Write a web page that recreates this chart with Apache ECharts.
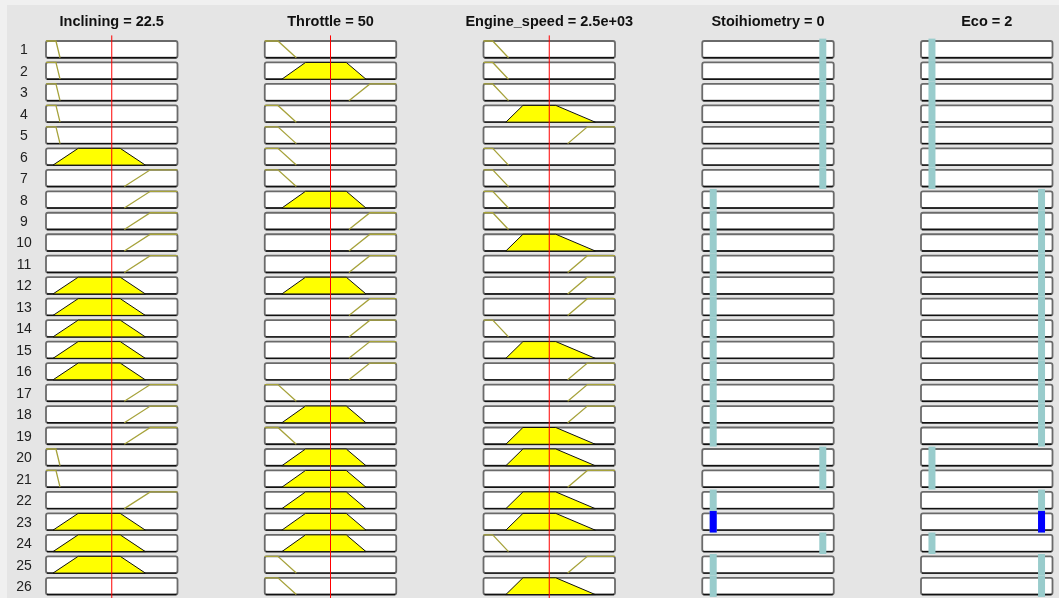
<!DOCTYPE html>
<html>
<head>
<meta charset="utf-8">
<title>Rule viewer</title>
<script src="https://cdn.jsdelivr.net/npm/echarts@6/dist/echarts.min.js"></script>
<style>
  html, body { margin: 0; padding: 0; background: #f0f0f0; }
  #ruleChart { width: 1059px; height: 598px; background: #e5e5e5; box-shadow: inset 7px 5px 0 0 #f0f0f0; }
</style>
</head>
<body>
<div id="ruleChart"></div>
<script>
  // rules and the membership function each one uses ('' = input not used)
  var ruleNumbers = [1, 2, 3, 4, 5, 6, 7, 8, 9, 10, 11, 12, 13, 14, 15, 16, 17, 18, 19, 20, 21, 22, 23, 24, 25, 26];
  var inclRules     = ['L','L','L','L','L','M','H','H','H','H','H','M','M','M','M','M','H','H','H','L','L','H','M','M','M',''];
  var throttleRules = ['L','M','H','L','L','L','L','M','H','H','H','M','H','H','H','H','L','M','L','M','M','M','M','M','L','L'];
  var engineRules   = ['L','L','L','M','H','L','L','L','L','M','H','H','H','L','M','H','H','H','M','M','H','M','M','L','H','M'];
  // constant outputs of each rule
  var stoihRules = [1,1,1,1,1,1,1,0,0,0,0,0,0,0,0,0,0,0,0,1,1,0,0,1,0,0];
  var ecoRules   = [0,0,0,0,0,0,0,2,2,2,2,2,2,2,2,2,2,2,2,0,0,2,2,0,2,2];

  // trapezoid membership functions [a, b, c, d]
  var inclMF     = { L: [0, 0, 3.4, 4.8], M: [2.4, 11, 25.4, 34], H: [26.8, 35.7, 45, 45] };
  var throttleMF = { L: [0, 0, 10, 24], M: [13, 31, 62, 77], H: [64, 80, 100, 100] };
  var engineMF   = { L: [0, 0, 350, 950], M: [850, 1500, 2750, 4250], H: [3200, 3950, 5000, 5000] };

  var inputValues = [22.5, 50, 2500];
  var varRanges = [[0, 45], [0, 100], [0, 5000], [-0.1, 1.1], [-0.2, 2.2]];
  var titleTexts = ['Inclining = 22.5', 'Throttle = 50', 'Engine_speed = 2.5e+03', 'Stoihiometry = 0', 'Eco = 2'];

  var inputRules = [inclRules, throttleRules, engineRules];
  var inputMFs = [inclMF, throttleMF, engineMF];
  var outputRules = [stoihRules, ecoRules];

  var Y_MIN = -0.15, Y_MAX = 26.05;
  var BOX_TOP = 0.11, BOX_BOTTOM = 0.89, BOX_H = BOX_BOTTOM - BOX_TOP;
  var GRID_TOP = 35.4, COL_LEFT = 46, COL_STEP = 218.75, COL_W = 131.5;

  function trapmf (x, p) {
    if (x < p[0] || x > p[3]) return 0;
    if (x >= p[1] && x <= p[2]) return 1;
    if (x < p[1]) return (x - p[0]) / (p[1] - p[0]);
    return (p[3] - x) / (p[3] - p[2]);
  }

  // firing strength of each rule (min of the used inputs)
  var firing = ruleNumbers.map(function (n, r) {
    var w = 1;
    for (var k = 0; k < 3; k++) {
      var name = inputRules[k][r];
      if (name) {
        w = Math.min(w, trapmf(inputValues[k], inputMFs[k][name]));
      }
    }
    return w;
  });

  function drawBox (api, k, r, children) {
    var tl = api.coord([varRanges[k][0], r + BOX_TOP]);
    var br = api.coord([varRanges[k][1], r + BOX_BOTTOM]);
    children.push({
      type: 'rect',
      shape: { x: tl[0], y: tl[1], width: br[0] - tl[0], height: br[1] - tl[1], r: 2 },
      style: { fill: '#ffffff', stroke: '#6a6a6a', lineWidth: 1.8 }
    });
    children.push({
      type: 'line',
      shape: { x1: tl[0] + 1, y1: br[1], x2: br[0] - 1, y2: br[1] },
      style: { stroke: '#111111', lineWidth: 1.4 }
    });
    return [tl, br];
  }

  function inputRenderer (k) {
    return function (params, api) {
      var r = params.dataIndex;
      var children = [];
      var box = drawBox(api, k, r, children);
      var name = inputRules[k][r];
      var yAt = function (mu) { return r + BOX_BOTTOM - BOX_H * mu; };
      if (name) {
        var p = inputMFs[k][name];
        var deg = trapmf(inputValues[k], p);
        if (deg > 0) {
          var poly = [[p[0], 0], [p[0] + (p[1] - p[0]) * deg, deg], [p[3] - (p[3] - p[2]) * deg, deg], [p[3], 0]];
          children.push({
            type: 'polygon',
            shape: { points: poly.map(function (q) { return api.coord([q[0], yAt(q[1])]); }) },
            style: { fill: '#ffff00', stroke: '#111111', lineWidth: 1 }
          });
        } else {
          var pts = [];
          if (p[0] < p[1]) pts.push([p[0], 0]);
          pts.push([p[1], 1]);
          pts.push([p[2], 1]);
          if (p[2] < p[3]) pts.push([p[3], 0]);
          children.push({
            type: 'polyline',
            shape: { points: pts.map(function (q) { return api.coord([q[0], yAt(q[1])]); }) },
            style: { fill: null, stroke: '#a6a23a', lineWidth: 1.3 }
          });
        }
      }
      if (k === 0) {
        children.push({
          type: 'text',
          style: {
            text: String(ruleNumbers[r]),
            x: box[0][0] - 22,
            y: (box[0][1] + box[1][1]) / 2 + 1,
            align: 'center',
            verticalAlign: 'middle',
            fill: '#222222',
            font: '14px "Liberation Sans", Arial, sans-serif'
          }
        });
      }
      return { type: 'group', children: children };
    };
  }

  function outputRenderer (k, j) {
    return function (params, api) {
      var r = params.dataIndex;
      var children = [];
      drawBox(api, k, r, children);
      var top = api.coord([outputRules[j][r], r]);
      var bottom = api.coord([outputRules[j][r], r + 1]);
      children.push({
        type: 'rect',
        shape: { x: top[0] - 3.5, y: top[1], width: 7, height: bottom[1] - top[1] },
        style: { fill: '#99cccc' }
      });
      if (firing[r] > 0) {
        var wTop = api.coord([outputRules[j][r], r + 1 - firing[r]]);
        children.push({
          type: 'rect',
          shape: { x: top[0] - 3.5, y: wTop[1], width: 7, height: bottom[1] - wTop[1] },
          style: { fill: '#0000ff' }
        });
      }
      return { type: 'group', children: children };
    };
  }

  var myChart = echarts.init(document.getElementById('ruleChart'));
  var grids = [], xAxes = [], yAxes = [], series = [], graphics = [];

  for (var k = 0; k < 5; k++) {
    var left = COL_LEFT + COL_STEP * k;
    grids.push({ left: left, top: GRID_TOP, width: COL_W, height: 598 - GRID_TOP });
    xAxes.push({ type: 'value', gridIndex: k, min: varRanges[k][0], max: varRanges[k][1], show: false });
    yAxes.push({ type: 'value', gridIndex: k, min: Y_MIN, max: Y_MAX, inverse: true, show: false });
    series.push({
      type: 'custom',
      xAxisIndex: k,
      yAxisIndex: k,
      silent: true,
      clip: false,
      renderItem: k < 3 ? inputRenderer(k) : outputRenderer(k, k - 3),
      data: ruleNumbers.map(function (n, r) { return [varRanges[k][0], r]; })
    });
    if (k < 3) {
      series.push({
        type: 'line',
        xAxisIndex: k,
        yAxisIndex: k,
        silent: true,
        symbol: 'none',
        z: 5,
        lineStyle: { color: '#ff0000', width: 1 },
        data: [[inputValues[k], Y_MIN], [inputValues[k], Y_MAX]]
      });
    }
    graphics.push({
      type: 'text',
      x: left + COL_W / 2,
      y: 22,
      style: {
        text: titleTexts[k],
        align: 'center',
        verticalAlign: 'middle',
        fill: '#111111',
        font: 'bold 14.5px "Liberation Sans", Arial, sans-serif'
      }
    });
  }

  myChart.setOption({
    animation: false,
    backgroundColor: 'transparent',
    grid: grids,
    xAxis: xAxes,
    yAxis: yAxes,
    graphic: graphics,
    series: series
  });
</script>
</body>
</html>
